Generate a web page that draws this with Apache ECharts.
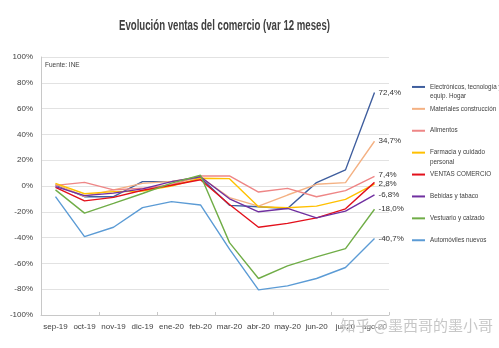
<!DOCTYPE html>
<html>
<head>
<meta charset="utf-8">
<script src="https://cdn.jsdelivr.net/npm/echarts@6/dist/echarts.min.js"></script>
<style>
html,body{margin:0;padding:0;background:#fff;}
#chart{width:499px;height:348px;}
</style>
</head>
<body>
<div id="chart"></div>
<script>
const months = ['sep-19','oct-19','nov-19','dic-19','ene-20','feb-20','mar-20','abr-20','may-20','jun-20','jul-20','ago-20'];
const yTicks = [-100, -80, -60, -40, -20, 0, 20, 40, 60, 80, 100];

const electronicos = [0.8, -8.3, -8.3, 3.4, 3.4, 6.5, -15.0, -16.1, -17.4, 2.6, 12.5, 72.4];
const materiales   = [1.5, -8.0, -3.0, 2.0, 3.6, 7.0, -9.0, -15.6, -7.0, 1.3, 2.6, 34.7];
const alimentos    = [0.5, 2.8, -3.0, -1.8, 1.0, 7.8, 7.8, -4.7, -1.8, -8.3, -3.6, 7.4];
const farmacia     = [2.0, -6.0, -4.4, -4.0, 0.0, 6.0, 5.7, -16.1, -16.9, -15.6, -10.4, 1.5];
const ventas       = [-1.0, -11.5, -8.8, -3.3, 0.6, 4.8, -14.3, -32.0, -29.0, -24.7, -17.7, 2.8];
const bebidas      = [-0.5, -7.5, -5.5, -2.2, 3.4, 7.2, -9.9, -20.0, -17.4, -24.7, -19.5, -6.8];
const vestuario    = [-3.0, -21.0, -13.5, -5.8, 2.2, 8.3, -43.9, -71.7, -61.9, -55.0, -48.5, -18.0];
const automoviles  = [-8.3, -39.2, -32.0, -16.8, -12.1, -14.7, -49.0, -80.5, -77.4, -71.7, -63.2, -40.7];

const seriesDefs = [
  {name: 'Electrónicos, tecnología y\nequip. Hogar', data: electronicos, color: '#3F5E9E', label: true, shift: 0},
  {name: 'Materiales construcción', data: materiales, color: '#F4B183', label: true, shift: 0},
  {name: 'Alimentos', data: alimentos, color: '#EE8686', label: true, shift: -2},
  {name: 'Farmacia y cuidado\npersonal', data: farmacia, color: '#FFC000', label: false, shift: 0},
  {name: 'VENTAS COMERCIO', data: ventas, color: '#E3101B', label: true, shift: 1},
  {name: 'Bebidas y tabaco', data: bebidas, color: '#7030A0', label: true, shift: 0},
  {name: 'Vestuario y calzado', data: vestuario, color: '#70AD47', label: true, shift: 0},
  {name: 'Automóviles nuevos', data: automoviles, color: '#5B9BD5', label: true, shift: 0}
];

const TITLE = 'Evolución ventas del comercio (var 12 meses)';
const FONT = "'Liberation Sans', Arial, sans-serif";
const fmtPct = v => v.toFixed(1).replace('.', ',') + '%';

// narrow the title to the width of a condensed face
const TITLE_FONT = "bold 15px 'Liberation Sans', Arial, sans-serif";
const measureCtx = document.createElement('canvas').getContext('2d');
measureCtx.font = TITLE_FONT;
const titleScale = 211 / measureCtx.measureText(TITLE).width;

const chart = echarts.init(document.getElementById('chart'), null, {renderer: 'canvas'});

const series = seriesDefs.map(s => ({
  name: s.name,
  type: 'line',
  data: s.data,
  symbol: 'none',
  lineStyle: {width: 1.4, color: s.color},
  itemStyle: {color: s.color},
  endLabel: {
    show: s.label, distance: 4, offset: [0, s.shift],
    formatter: p => fmtPct(p.value),
    fontFamily: FONT, fontSize: 8, color: '#333'
  },
  emphasis: {disabled: true},
  animation: false
}));

chart.setOption({
  backgroundColor: '#ffffff',
  animation: false,
  legend: {
    orient: 'vertical',
    left: 407, top: 68,
    itemWidth: 13, itemHeight: 2, itemGap: -6,
    icon: 'rect',
    selectedMode: false,
    data: seriesDefs.map(s => s.name),
    formatter: n => {
      const parts = n.split('\n');
      return ' \n' + parts[0] + '\n' + (parts[1] || ' ');
    },
    textStyle: {fontFamily: FONT, fontSize: 6.3, color: '#404040', lineHeight: 9.3}
  },
  grid: {left: 41, right: 110, top: 57, bottom: 33, containLabel: false},
  xAxis: [{
    type: 'category', data: months, boundaryGap: true,
    axisLine: {show: false}, axisTick: {show: false},
    axisLabel: {fontFamily: FONT, fontSize: 8, color: '#404040', margin: 8, interval: 0}
  }, {
    type: 'category', data: months, boundaryGap: true, position: 'bottom',
    axisLine: {show: true, onZero: true, lineStyle: {color: '#c8c8c8', width: 1}},
    axisTick: {show: true, length: 3, inside: true, lineStyle: {color: '#c8c8c8'}},
    axisLabel: {show: false}
  }],
  yAxis: {
    type: 'value', min: yTicks[0], max: yTicks[yTicks.length - 1], interval: 20,
    axisLine: {show: true, lineStyle: {color: '#c8c8c8'}},
    axisTick: {show: false},
    splitLine: {lineStyle: {color: '#e2e2e2', width: 1}},
    axisLabel: {formatter: v => v + '%', fontFamily: FONT, fontSize: 8, color: '#404040', margin: 8}
  },
  graphic: [{
    type: 'text', x: 224.5, y: 26, scaleX: titleScale,
    style: {text: TITLE, font: TITLE_FONT, fill: '#404040', align: 'center', verticalAlign: 'middle'}
  }, {
    type: 'text', left: 45, top: 62,
    style: {text: 'Fuente: INE', font: "6.5px 'Liberation Sans', Arial, sans-serif", fill: '#404040'}
  }, {
    type: 'text', left: 340, top: 317, z: 100,
    style: {text: '知乎 @墨西哥的墨小哥', font: "15px 'Noto Sans CJK SC', sans-serif", fill: 'rgba(185,185,185,0.8)', stroke: 'rgba(255,255,255,0.6)', lineWidth: 1}
  }],
  series: series
});
</script>
</body>
</html>
